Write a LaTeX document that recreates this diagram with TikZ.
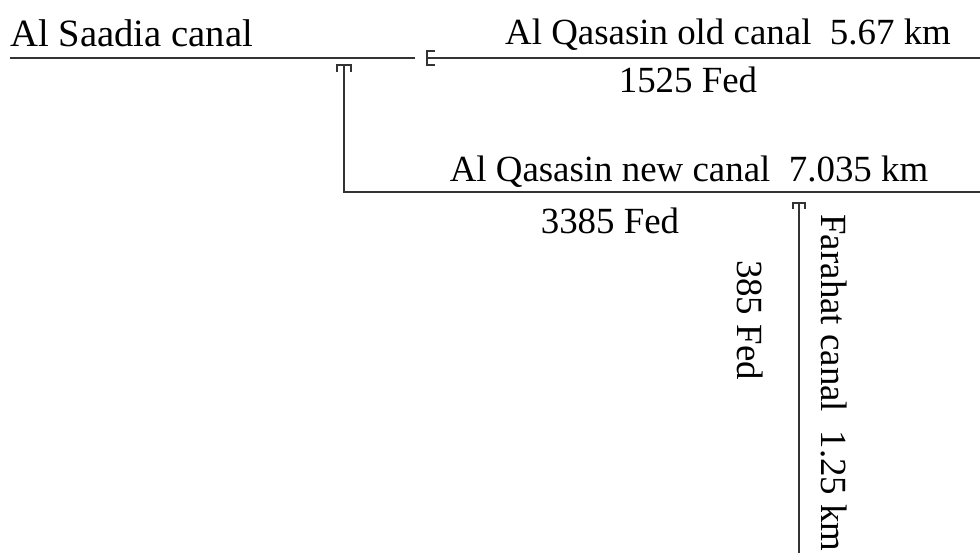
\documentclass[tikz,border=0pt]{standalone}
\usepackage{fontspec}
\setmainfont{Liberation Serif}
\usepackage{xcolor}
\usetikzlibrary{positioning}
\definecolor{canalgray}{HTML}{333333}

\begin{document}
\begin{tikzpicture}[x=0.02cm,y=-0.02cm,
  canal/.style={canalgray, line width=1.2pt},
  gate/.style={canalgray, line width=0.9pt},
  lbl/.style={inner sep=0pt, font=\fontsize{21}{24}\selectfont}]
\useasboundingbox (0,0) rectangle (980,553);
% canal ends and junctions
\coordinate (saadiaW) at (10,58);
\coordinate (saadiaE) at (415,58);
\coordinate (oldW) at (427,58);
\coordinate (oldE) at (980,58);
\coordinate (newN) at (344,65);
\coordinate (newC) at (344,192);
\coordinate (newE) at (980,192);
\coordinate (farN) at (799,203);
\coordinate (farS) at (799,553);
\draw[canal] (saadiaW) -- (saadiaE);
\draw[canal] (oldW) -- (oldE);
\draw[canal] (newN) -- (newC) -- (newE);
\draw[canal] (farN) -- (farS);
% regulators
\draw[gate] ([shift={(8,-7)}]oldW) -- ([shift={(0,-7)}]oldW) -- ([shift={(0,7)}]oldW) -- ([shift={(8,7)}]oldW);
\draw[gate] ([shift={(-7,7)}]newN) -- ([shift={(-7,0)}]newN) -- ([shift={(7,0)}]newN) -- ([shift={(7,7)}]newN);
\draw[gate] ([shift={(-6,6)}]farN) -- ([shift={(-6,0)}]farN) -- ([shift={(6,0)}]farN) -- ([shift={(6,6)}]farN);
% labels
\node[lbl, anchor=base west, font=\fontsize{22}{25}\selectfont] (saadia) at (10,47) {Al Saadia canal};
\node[lbl, anchor=base] (oldname) at (728,45) {Al Qasasin old canal\ \ 5.67 km};
\node[lbl, anchor=base] (oldarea) at (688,93) {1525 Fed};
\node[lbl, anchor=base] (newname) at (689,182) {Al Qasasin new canal\ \ 7.035 km};
\node[lbl, anchor=base] (newarea) at (610,234) {3385 Fed};
\node[lbl, rotate=-90] (fararea) at (750,320) {385 Fed};
\node[lbl, rotate=-90] (farname) at (834,383) {Farahat canal\ \ 1.25 km};
\end{tikzpicture}
\end{document}
